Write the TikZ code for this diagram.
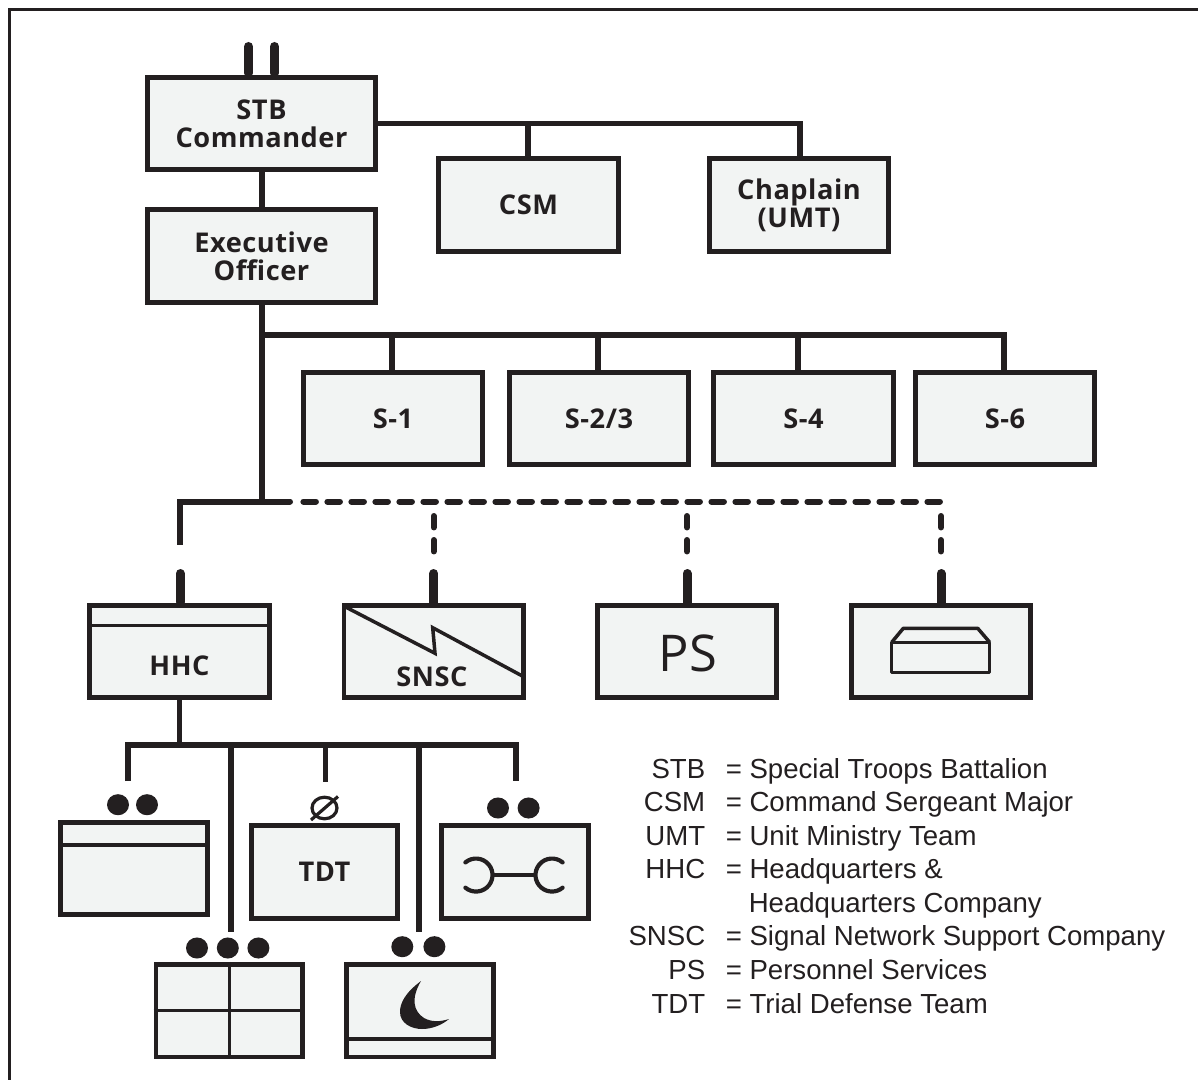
\documentclass[tikz,border=0pt]{standalone}
\usepackage{fontspec}
\setmainfont{Liberation Sans}
\newfontfamily\boxfont{Open Sans}[LetterSpace=2]
\newfontfamily\psfont{Open Sans}
\definecolor{ink}{HTML}{231F20}
\definecolor{boxfill}{HTML}{F2F4F3}
\usetikzlibrary{shapes.geometric}
\tikzset{
  px/.style={line width=#1*0.75pt},
  chartbox/.style={draw=ink,fill=boxfill,px=4.8,minimum width=134.5pt,minimum height=69.5pt,inner sep=0pt,align=center,
    font=\boxfont\bfseries\fontsize{20.4}{21}\selectfont,text=ink},
  widebox/.style={chartbox,minimum width=171pt},
  smallbox/.style={chartbox,minimum width=110pt},
  wire/.style={draw=ink,px=5.5,line join=miter},
  trunk/.style={draw=ink,px=6},
  stub/.style={draw=ink,px=9,line cap=round},
  dashh/.style={draw=ink,px=6,line cap=round,dash pattern=on 9.4pt off 8.6pt},
  dashv/.style={draw=ink,px=6,line cap=round,dash pattern=on 8.6pt off 9.4pt},
  detail/.style={draw=ink,px=3.5},
  pip/.style={fill=ink,draw=none,ellipse,minimum width=16.5pt,minimum height=15.8pt,inner sep=0pt},
  abbr/.style={anchor=base east,inner sep=0pt,font=\fontsize{20.7}{24}\selectfont,text=ink},
  eqtext/.style={anchor=base west,inner sep=0pt,font=\fontsize{20.7}{24}\selectfont,text=ink},
  boxlabel/.style={text=ink,font=\boxfont\bfseries\fontsize{20.4}{21}\selectfont,inner sep=0pt},
}
\begin{document}
\begin{tikzpicture}[x=0.75pt,y=-0.75pt]
\useasboundingbox (0,0) rectangle (1198,1080);
\draw[draw=ink,px=3] (9,1080) -- (9,9.5) -- (1198,9.5);

% command group
\node[widebox] (stb) at (261.5,123.5) {STB\\Commander};
\node[widebox] (xo) at (261.5,256) {Executive\\Officer};
\node[chartbox] (csm) at (528.5,205) {CSM};
\node[chartbox] (chap) at (799,205) {Chaplain\\(UMT)};
\node[chartbox] (s1) at (393,418.5) {S-1};
\node[chartbox] (s23) at (599,418.5) {S-2/3};
\node[chartbox] (s4) at (803.5,418.5) {S-4};
\node[chartbox] (s6) at (1005,418.5) {S-6};

% companies
\node[chartbox] (hhc) at (179.5,651.5) {};
\node[chartbox] (snsc) at (433.7,651.5) {};
\node[chartbox] (ps) at (687,651.5) {};
\node[chartbox] (sp) at (941,651.5) {};
\node[boxlabel] (hhct) at (179.5,665.5) {HHC};
\node[boxlabel] (snsct) at (432,676.5) {SNSC};
\node[text=ink,font=\psfont\fontsize{38}{42}\selectfont,inner sep=0pt] (pst) at (688,653) {PS};
\draw[detail] (hhc.west |- 0,625.7) -- (hhc.east |- 0,625.7);
\draw[detail,line join=miter] (345,606.7) -- (435,653.3) -- (432.7,627.7) -- (522.3,676);
\draw[detail,line join=round] (891.7,642.3) rectangle (989.7,672.7);
\draw[detail,line join=round] (891.7,642.3) -- (903.3,628.3) -- (977.7,628.3) -- (989.7,642.3);

% lower units
\node[smallbox] (a) at (134,868.5) {};
\node[smallbox] (tdt) at (324.5,872) {TDT};
\node[smallbox] (e) at (515,872) {};
\node[smallbox] (g) at (229.3,1010.7) {};
\node[smallbox] (m) at (420,1010.7) {};
\draw[detail] (a.west |- 0,845) -- (a.east |- 0,845);
\draw[detail] (g.north) -- (g.south);
\draw[detail] (g.west) -- (g.east);
\draw[detail] (m.west |- 0,1039) -- (m.east |- 0,1039);

% connectors
\coordinate (jc) at (528,123.5);
\coordinate (jd) at (800,123.5);
\draw[wire] (stb.east) -- (jd) -- (chap.north -| jd);
\draw[wire] (jc) -- (csm.north -| jc);
\draw[trunk] (stb.south) -- (xo.north);
\draw[trunk] (xo.south) -- (261.5,501.5);
\coordinate (b1) at (261.5,335);
\coordinate (b2) at (392,335);
\coordinate (b3) at (598,335);
\coordinate (b4) at (798,335);
\coordinate (b5) at (1004,335);
\draw[wire] (b1) -- (b5) -- (s6.north -| b5);
\foreach \j/\n in {b2/s1,b3/s23,b4/s4} \draw[wire] (\j) -- (\n.north -| \j);
\coordinate (jh) at (180.3,501.5);
\coordinate (jm) at (290,501.5);
\draw[trunk,line cap=round] (jm) -- (jh |- jm);
\draw[trunk,line join=miter] (jm) -- (jh) -- (180.3,545);
\draw[dashh] (303.4,501.5) -- (941,501.5);
\foreach \n in {snsc,ps,sp} {
  \draw[dashv] (\n.north |- 0,516) -- (\n.north |- 0,556);
  \draw[stub] (\n.north |- 0,573.5) -- (\n.north);
}
\draw[stub] (180.3,573.5) -- (180.3,602);
\draw[stub] (248.5,46.5) -- (248.5,73);
\draw[stub] (274.5,46.5) -- (274.5,73);

\coordinate (bb1) at (128,745);
\coordinate (bb2) at (230.8,745);
\coordinate (bb3) at (325.4,745);
\coordinate (bb4) at (418.8,745);
\coordinate (bb5) at (516,745);
\draw[wire] (hhc.south) -- (hhc.south |- bb1);
\draw[wire] (128,781) -- (bb1) -- (bb5) -- (516,781);
\draw[wire] (bb2) -- (230.8,932);
\draw[wire] (bb3) -- (325.4,782);
\draw[wire] (bb4) -- (418.8,932);

% pips
\node[pip] (p1) at (118,804.7) {};
\node[pip] (p2) at (147,804.7) {};
\node[pip] (p3) at (498,808) {};
\node[pip] (p4) at (528.6,808) {};
\node[pip] (p5) at (197,948) {};
\node[pip] (p6) at (227.8,948) {};
\node[pip] (p7) at (258.4,948) {};
\node[pip] (p8) at (402.3,946.7) {};
\node[pip] (p9) at (434.4,946.7) {};
\draw[draw=ink,px=3.2] (324.5,808) ellipse [x radius=12.5,y radius=10.8];
\draw[draw=ink,px=3.2] (338,796.5) -- (311,820);

% branch symbols
\draw[draw=ink,px=4.2,line cap=round] (465.4,862.4) arc[start angle=-130,end angle=130,radius=16.5];
\draw[draw=ink,px=4.2,line cap=round] (562.6,862.4) arc[start angle=-50,end angle=-310,radius=16.5];
\draw[draw=ink,px=3.8] (492.5,875) -- (535.5,875);
\fill[ink] (421,981) .. controls (405,993) and (400,1003) .. (400,1012)
  .. controls (400,1023) and (411,1029) .. (422,1029)
  .. controls (432,1029) and (442,1025) .. (449,1019)
  .. controls (440,1022) and (431,1022) .. (424,1018)
  .. controls (413,1011) and (411,998) .. (421,981) -- cycle;

% legend
\foreach \i/\ab/\tx in {0/STB/Special Troops Battalion,1/CSM/Command Sergeant Major,2/UMT/Unit Ministry Team,3/HHC/Headquarters \&,5/SNSC/Signal Network Support Company,6/PS/Personnel Services,7/TDT/Trial Defense Team}{
  \node[abbr] (ab\i) at (705.5,778+33.57*\i) {\ab};
  \node[eqtext] (tx\i) at (725.5,778+33.57*\i) {= \tx};
}
\node[eqtext] (tx4) at (748.5,778+33.57*4) {Headquarters Company};
\end{tikzpicture}
\end{document}
